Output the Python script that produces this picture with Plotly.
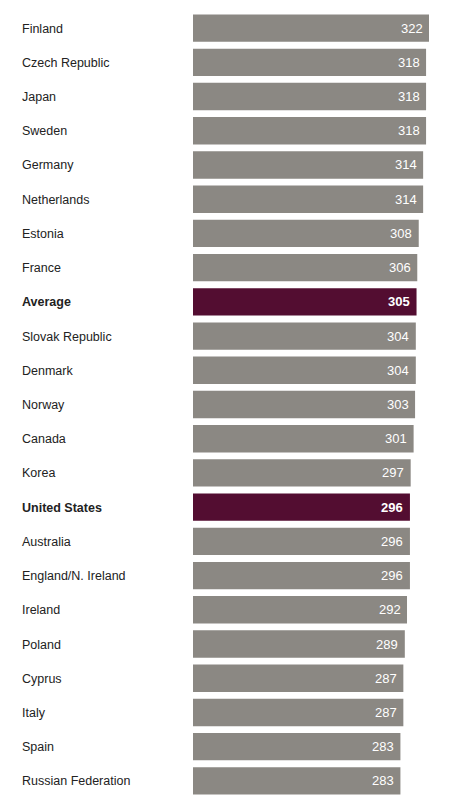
import plotly.graph_objects as go

countries = ["Finland", "Czech Republic", "Japan", "Sweden", "Germany", "Netherlands",
             "Estonia", "France", "Average", "Slovak Republic", "Denmark", "Norway",
             "Canada", "Korea", "United States", "Australia", "England/N. Ireland",
             "Ireland", "Poland", "Cyprus", "Italy", "Spain", "Russian Federation"]
scores = [322, 318, 318, 318, 314, 314, 308, 306, 305, 304, 304, 303, 301, 297,
          296, 296, 296, 292, 289, 287, 287, 283, 283]
highlight = ["Average", "United States"]

GREY = "#8b8883"
PURPLE = "#530d31"

colors = [PURPLE if c in highlight else GREY for c in countries]
ypos = list(range(len(countries)))

fig = go.Figure()
fig.add_trace(go.Bar(
    x=scores, y=ypos, orientation="h",
    marker=dict(color=colors, line=dict(width=0)),
    width=0.8, hoverinfo="skip", showlegend=False,
))

L = 193
W = 454 - L
annotations = []
for c, v, y in zip(countries, scores, ypos):
    bold = c in highlight
    annotations.append(dict(
        x=-(L - 20) / W, xref="paper", y=y, yref="y", yshift=-0.5,
        text=f"<b>{c}</b>" if bold else c, showarrow=False,
        xanchor="left", yanchor="middle",
        font=dict(family="Liberation Sans, Arial, sans-serif", size=12.5, color="#222222"),
    ))
    annotations.append(dict(
        x=v, xref="x", y=y, yref="y", xshift=-4.5,
        text=f"<b>{v}</b>" if bold else str(v), showarrow=False,
        xanchor="right", yanchor="middle",
        font=dict(family="Liberation Sans, Arial, sans-serif", size=13, color="#ffffff"),
    ))

fig.update_layout(
    width=454, height=800,
    margin=dict(l=L, r=0, t=10.5, b=2.3),
    paper_bgcolor="white", plot_bgcolor="white",
    xaxis=dict(range=[0, W / (236 / 322)], visible=False, fixedrange=True),
    yaxis=dict(range=[len(countries) - 0.5, -0.5], visible=False, fixedrange=True),
    annotations=annotations,
    bargap=0.2,
)

fig.write_html("out.html", config={"displayModeBar": False})
